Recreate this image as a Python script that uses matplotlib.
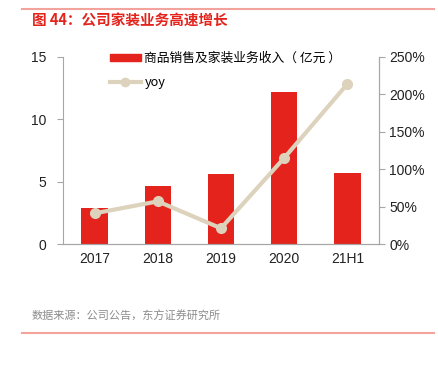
import matplotlib.pyplot as plt
from matplotlib.lines import Line2D

plt.rcParams['font.family'] = ['Liberation Sans', 'Noto Sans CJK SC', 'DejaVu Sans']

categories = ['2017', '2018', '2019', '2020', '21H1']
revenue = [2.9, 4.65, 5.6, 12.2, 5.7]
yoy = [41, 57, 21, 115, 214]

W, H = 439, 373
fig = plt.figure(figsize=(W / 100, H / 100), dpi=100)
ax = fig.add_axes([63 / W, 1 - 244 / H, 316 / W, 187 / H])
ax2 = ax.twinx()

x = range(len(categories))
ax.bar(x, revenue, width=0.42, color='#E3231C', zorder=2)
ax2.plot(x, yoy, color='#DDD3BD', lw=3, marker='o', ms=7, zorder=3)

ax.set_xlim(-0.5, len(categories) - 0.5)
ax.set_ylim(0, 15)
ax.set_yticks([0, 5, 10, 15])
ax.set_xticks(list(x))
ax.set_xticklabels(categories)
ax2.set_ylim(0, 250)
ax2.set_yticks([0, 50, 100, 150, 200, 250])
ax2.set_yticklabels([f'{v}%' for v in [0, 50, 100, 150, 200, 250]])

gray = '#A6A6A6'
for a in (ax, ax2):
    a.spines['top'].set_visible(False)
    for s in ('left', 'right', 'bottom'):
        a.spines[s].set_color(gray)
    a.tick_params(colors=gray, labelcolor='#222222', labelsize=10, length=4)
ax2.spines['left'].set_visible(False)
ax.tick_params(axis='y', pad=8)
ax.tick_params(axis='x', length=0, pad=6)
ax2.set_zorder(2)
ax.set_zorder(1)

handles = [plt.Rectangle((0, 0), 1, 1, color='#E3231C'),
           Line2D([], [], color='#DDD3BD', lw=3, marker='o', ms=6)]
fig.legend(handles, ['商品销售及家装业务收入（ 亿元 ）', 'yoy'],
           loc='upper left', bbox_to_anchor=(110 / W, 1 - 52 / H),
           borderpad=0, borderaxespad=0,
           frameon=False, handlelength=2.4, handleheight=0.45, handletextpad=0.3,
           labelspacing=0.85, prop={'family': ['Noto Sans CJK SC', 'DejaVu Sans'], 'size': 9.2})

fig.add_artist(Line2D([22 / W, 434 / W], [1 - 9 / H, 1 - 9 / H], color='#F2A49C', lw=1.5))
fig.add_artist(Line2D([22 / W, 434 / W], [1 - 333 / H, 1 - 333 / H], color='#F2A49C', lw=1.5))
fig.text(32 / W, 1 - 21 / H, '图 44：公司家装业务高速增长', color='#E3231C', fontsize=10.5,
         fontweight='bold', va='center', family=['Noto Sans CJK SC', 'DejaVu Sans'])
fig.text(32 / W, 1 - 316 / H, '数据来源：公司公告，东方证券研究所', color='#8C8C8C', fontsize=8,
         va='center', family=['Noto Sans CJK SC', 'DejaVu Sans'])

fig.savefig('out.png', dpi=100)
